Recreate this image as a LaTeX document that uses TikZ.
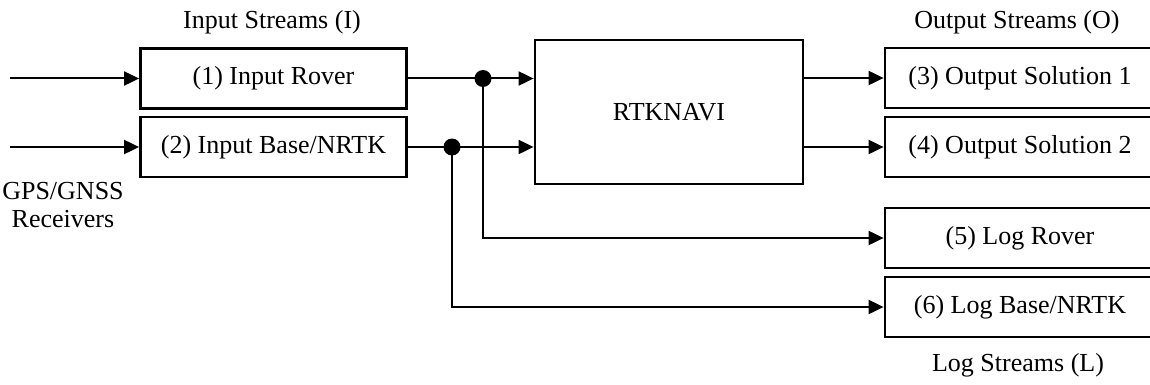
\documentclass[tikz,border=0pt]{standalone}
\usepackage{fontspec}
\setmainfont{Liberation Serif}
\usetikzlibrary{arrows.meta}
\begin{document}
\begin{tikzpicture}[x=0.5pt,y=-0.5pt,
  every node/.style={font=\fontsize{13}{14}\selectfont, inner sep=0pt},
  blk/.style={draw, line width=1.4pt, minimum height=30pt, minimum width=133pt},
  outblk/.style={draw, line width=1.4pt, minimum height=30pt, minimum width=135pt},
  wire/.style={line width=1pt, -{Triangle[length=7.5pt,width=7pt]}},
  plain/.style={line width=1pt},
  dotmark/.style={circle, fill=black, minimum size=8.5pt, inner sep=0pt}]
\clip (0,0) rectangle (1150,385);
\useasboundingbox (0,0) rectangle (1150,385);
% input boxes
\node[blk] (in1) at (273.5,78.5) {(1) Input Rover};
\node[blk] (in2) at (273.5,147) {(2) Input Base/NRTK};
% main
\node[draw, line width=1.4pt, minimum width=134pt, minimum height=72pt] (rtk) at (669,112) {RTKNAVI};
% outputs
\node[outblk] (o3) at (1020,78) {(3) Output Solution 1};
\node[outblk] (o4) at (1020,147) {(4) Output Solution 2};
\node[outblk] (l5) at (1020,238) {(5) Log Rover};
\node[outblk] (l6) at (1020,307) {(6) Log Base/NRTK};
% labels
\node (lin) at (272,22) {Input Streams (I)};
\node (lout) at (1017,22) {Output Streams (O)};
\node (llog) at (1018,365) {Log Streams (L)};
\node[align=center] (gps) at (63,205) {GPS/GNSS\\[0pt]Receivers};
% sources
\coordinate (s1) at (10,78.5);
\coordinate (s2) at (10,147);
\draw[wire] (s1) -- (in1.west);
\draw[wire] (s2) -- (in2.west);
% junctions
\node[dotmark] (d1) at (483,78.5) {};
\node[dotmark] (d2) at (452,147) {};
\draw[plain] (in1.east) -- (d1.center);
\draw[plain] (in2.east) -- (d2.center);
\draw[wire] (d1.center) -- (in1.east -| rtk.west);
\draw[wire] (d2.center) -- (in2.east -| rtk.west);
\draw[wire] (d1.center) |- (l5.west);
\draw[wire] (d2.center) |- (l6.west);
% outputs
\draw[wire] (rtk.east |- o3.west) -- (o3.west);
\draw[wire] (rtk.east |- o4.west) -- (o4.west);
\end{tikzpicture}
\end{document}
